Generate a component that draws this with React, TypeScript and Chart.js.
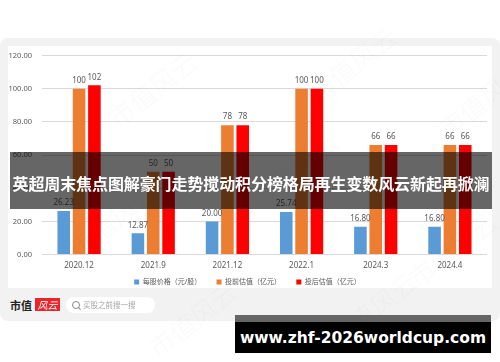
import React, { useEffect, useRef } from "react";
import { Chart, registerables } from "chart.js";

Chart.register(...registerables);

const categories = ["2020.12", "2021.9", "2021.12", "2022.1", "2024.3", "2024.4"];
const pricePerShare = [26.23, 12.87, 20.0, 25.74, 16.8, 16.8];
const preMoney = [100, 50, 78, 100, 66, 66];
const postMoney = [102, 50, 78, 100, 66, 66];
const seriesNames = ["每股价格（元/股）", "投前估值（亿元）", "投后估值（亿元）"];
const yTicks = [0, 20, 40, 60, 80, 100, 120];

const FONT = "'Noto Sans', 'Noto Sans CJK SC', sans-serif";

const valueLabels = {
  id: "valueLabels",
  beforeUpdate(chart: any) {
    const l = chart.legend;
    if (l && !l.__patched) {
      const f = l.fit;
      l.fit = function () {
        f.call(this);
        this.height -= 10;
      };
      l.__patched = true;
    }
  },
  afterDatasetsDraw(chart: any) {
    const ctx = chart.ctx;
    ctx.save();
    ctx.font = `8px ${FONT}`;
    ctx.fillStyle = "#595959";
    ctx.textAlign = "center";
    ctx.textBaseline = "bottom";
    chart.data.datasets.forEach((ds: any, i: number) => {
      const meta = chart.getDatasetMeta(i);
      meta.data.forEach((bar: any, j: number) => {
        const v = ds.data[j];
        const txt = i === 0 ? v.toFixed(2) : String(v);
        ctx.fillText(txt, bar.x, bar.y - 4);
      });
    });
    ctx.restore();
  },
};

function ChartCanvas() {
  const ref = useRef<HTMLCanvasElement | null>(null);
  useEffect(() => {
    if (!ref.current) return;
    const chart = new Chart(ref.current, {
      type: "bar",
      data: {
        labels: categories,
        datasets: [
          { label: seriesNames[0], data: pricePerShare, backgroundColor: "#5B9BD5" },
          { label: seriesNames[1], data: preMoney, backgroundColor: "#ED7D31" },
          { label: seriesNames[2], data: postMoney, backgroundColor: "#FF0000" },
        ],
      },
      options: {
        responsive: false,
        animation: false,
        layout: { padding: { top: 0, right: 5, left: 0, bottom: 2.4 } },
        datasets: {
          bar: { categoryPercentage: 0.62, barPercentage: 0.82, borderWidth: 0 },
        } as any,
        scales: {
          x: {
            grid: { display: false, drawTicks: false },
            border: { display: false },
            ticks: { color: "#595959", font: { size: 8, family: FONT }, padding: 6 },
            afterFit: (scale: any) => {
              scale.height = 16;
            },
          },
          y: {
            min: 0,
            max: 120,
            afterBuildTicks: (scale: any) => {
              scale.ticks = yTicks.map((v) => ({ value: v }));
            },
            afterFit: (scale: any) => {
              scale.width = 34;
            },
            grid: { color: "#d9d9d9", drawTicks: false, lineWidth: 1 },
            border: { display: false },
            ticks: {
              color: "#595959",
              font: { size: 7.5, family: FONT },
              padding: 10,
              callback: (v: any) => Number(v).toFixed(2),
            },
          },
        },
        plugins: {
          legend: {
            position: "bottom",
            labels: {
              boxWidth: 5,
              boxHeight: 5,
              padding: 8,
              color: "#595959",
              font: { size: 7, family: FONT },
              generateLabels: (chart: any) => {
                const items = Chart.defaults.plugins.legend.labels.generateLabels(chart);
                return items.map((it: any, i: number) =>
                  i < items.length - 1 ? { ...it, text: it.text + "    " } : it
                );
              },
            },
          },
          tooltip: { enabled: false },
        },
      },
      plugins: [valueLabels],
    });
    return () => chart.destroy();
  }, []);
  return <canvas ref={ref} width={484} height={247} style={{ display: "block" }} />;
}

const watermarks = [
  { x: 100, y: 70, r: -38 },
  { x: 300, y: 45, r: -38 },
  { x: 430, y: 80, r: -38 },
  { x: 60, y: 200, r: -38 },
  { x: 240, y: 150, r: -38 },
  { x: 400, y: 230, r: -38 },
  { x: 140, y: 300, r: -38 },
  { x: 320, y: 290, r: -38 },
];

export default function App() {
  return (
    <div
      style={{
        position: "fixed",
        left: 0,
        top: 0,
        width: 500,
        height: 362,
        background: "#ffffff",
        overflow: "hidden",
        fontFamily: FONT,
      }}
    >
      <div
        style={{
          position: "absolute",
          left: 0,
          top: 38,
          width: 500,
          height: 283,
          background: "#f2f2f2",
          borderRadius: 8,
        }}
      />
      <div
        style={{
          position: "absolute",
          left: 8,
          top: 46,
          width: 484,
          height: 242,
          background: "#ffffff",
        }}
      />
      <div
        style={{
          position: "absolute",
          left: 8,
          top: 41,
          width: 484,
          height: 247,
        }}
      >
        <ChartCanvas />
      </div>
      {watermarks.map((w, i) => (
        <div
          key={i}
          style={{
            position: "absolute",
            left: w.x,
            top: w.y,
            fontSize: 26,
            fontWeight: 300,
            color: "rgba(0,0,0,0.025)",
            transform: `rotate(${w.r}deg)`,
            whiteSpace: "nowrap",
            fontFamily: "'Noto Sans CJK SC', serif",
            pointerEvents: "none",
          }}
        >
          市值风云
        </div>
      ))}
      {/* banner */}
      <div
        style={{
          position: "absolute",
          left: 10,
          top: 152,
          width: 482,
          height: 57,
          background: "rgba(0,0,0,0.6)",
          display: "flex",
          alignItems: "center",
          justifyContent: "center",
        }}
      >
        <span
          style={{
            color: "#ffffff",
            fontWeight: 700,
            fontSize: 16,
            fontFamily: "'Noto Sans CJK SC', sans-serif",
            whiteSpace: "nowrap",
            letterSpacing: -0.1,
            marginTop: 4,
          }}
        >
          英超周末焦点图解豪门走势搅动积分榜格局再生变数风云新起再掀澜
        </span>
      </div>
      {/* logo */}
      <div
        style={{
          position: "absolute",
          left: 10,
          top: 297,
          fontSize: 11,
          fontWeight: 700,
          color: "#222",
          fontFamily: "'Noto Sans CJK SC', serif",
          lineHeight: "16px",
        }}
      >
        市值
      </div>
      <div
        style={{
          position: "absolute",
          left: 35,
          top: 298,
          width: 25,
          height: 13,
          background: "#e8262b",
          color: "#fff",
          fontSize: 10,
          fontStyle: "italic",
          lineHeight: "13px",
          textAlign: "center",
          fontFamily: "'Noto Sans CJK SC', serif",
        }}
      >
        风云
      </div>
      <div
        style={{
          position: "absolute",
          left: 66,
          top: 297,
          width: 89,
          height: 16,
          background: "#ffffff",
          borderRadius: 8,
        }}
      >
        <div
          style={{
            position: "absolute",
            left: 6,
            top: 4,
            width: 6,
            height: 6,
            border: "1px solid #888",
            borderRadius: "50%",
          }}
        />
        <div
          style={{
            position: "absolute",
            left: 12,
            top: 11,
            width: 3,
            height: 1,
            background: "#888",
            transform: "rotate(45deg)",
          }}
        />
        <span
          style={{
            position: "absolute",
            left: 17,
            top: 0,
            fontSize: 7.5,
            lineHeight: "16px",
            color: "#a6a6a6",
            whiteSpace: "nowrap",
            fontFamily: "'Noto Sans CJK SC', sans-serif",
          }}
        >
          买股之前搜一搜
        </span>
      </div>
      {/* url box */}
      <div
        style={{
          position: "absolute",
          left: 235,
          top: 315,
          width: 256,
          height: 7,
          background: "#666666",
        }}
      />
      <div
        style={{
          position: "absolute",
          left: 235,
          top: 322,
          width: 256,
          height: 31,
          background: "#000000",
          color: "#ffffff",
          fontWeight: 700,
          fontSize: 15.5,
          fontFamily: "'DejaVu Sans', sans-serif",
          display: "flex",
          alignItems: "center",
          justifyContent: "center",
          whiteSpace: "nowrap",
        }}
      >
        www.zhf-2026worldcup.com
      </div>
    </div>
  );
}
